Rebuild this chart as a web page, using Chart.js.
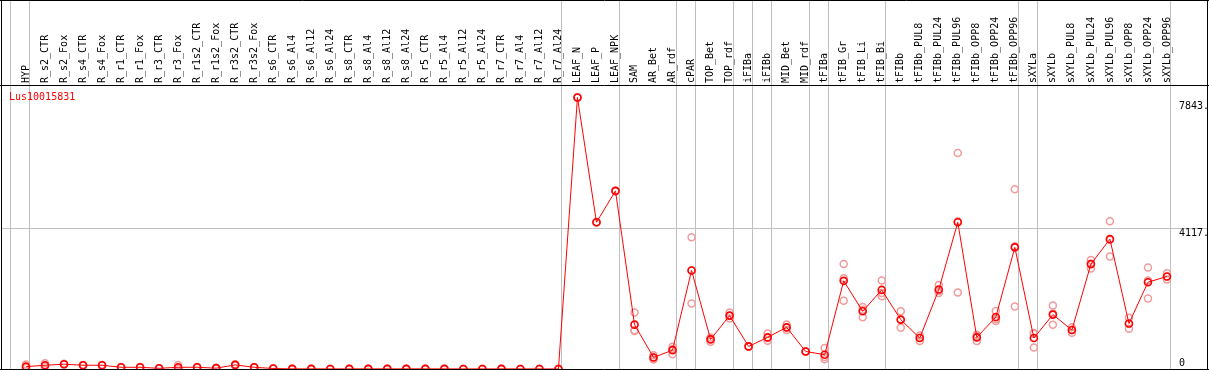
<!DOCTYPE html>
<html>
<head>
<meta charset="utf-8">
<script src="https://cdn.jsdelivr.net/npm/chart.js@4/dist/chart.umd.min.js"></script>
<style>
html,body{margin:0;padding:0;background:#fff;}
#wrap{width:1209px;height:370px;}
</style>
</head>
<body>
<div id="wrap"><canvas id="c" width="1209" height="370"></canvas></div>
<script>
const geneName = "Lus10015831";

const categories = ["HYP","R_s2_CTR","R_s2_Fox","R_s4_CTR","R_s4_Fox","R_r1_CTR","R_r1_Fox","R_r3_CTR","R_r3_Fox","R_r1s2_CTR","R_r1s2_Fox","R_r3s2_CTR","R_r3s2_Fox","R_s6_CTR","R_s6_Al4","R_s6_Al12","R_s6_Al24","R_s8_CTR","R_s8_Al4","R_s8_Al12","R_s8_Al24","R_r5_CTR","R_r5_Al4","R_r5_Al12","R_r5_Al24","R_r7_CTR","R_r7_Al4","R_r7_Al12","R_r7_Al24","LEAF_N","LEAF_P","LEAF_NPK","SAM","AR_Bet","AR_rdf","cPAR","TOP_Bet","TOP_rdf","iFIBa","iFIBb","MID_Bet","MID_rdf","tFIBa","tFIB_Gr","tFIB_Li","tFIB_Bi","tFIBb","tFIBb_PUL8","tFIBb_PUL24","tFIBb_PUL96","tFIBb_OPP8","tFIBb_OPP24","tFIBb_OPP96","sXYLa","sXYLb","sXYLb_PUL8","sXYLb_PUL24","sXYLb_PUL96","sXYLb_OPP8","sXYLb_OPP24","sXYLb_OPP96"];

const meanValues = [70,110,140,110,110,50,50,20,50,50,25,120,50,15,3,3,2,3,3,3,3,3,3,2,2,3,2,2,1,7943,4293,5212,1298,338,552,2884,866,1562,661,925,1219,514,417,2580,1688,2314,1445,905,2325,4293,925,1521,3559,905,1592,1140,3069,3800,1330,2540,2707];

const rep1 = [130,170,150,120,120,55,55,25,120,60,40,140,60,20,4,4,3,4,4,4,4,4,4,3,3,4,3,3,2,7943,4293,5212,1650,400,650,3853,920,1650,661,1040,1300,514,611,3069,1815,2590,1688,980,2461,6319,1000,1697,5262,1034,1856,1220,3186,4323,1500,2972,2800];
const rep2 = [40,80,130,100,100,45,45,15,20,40,15,100,40,10,2,2,1,2,2,2,2,2,2,1,1,2,1,1,0,7943,4293,5212,1110,280,430,1915,800,1480,661,830,1140,514,288,2000,1512,2129,1210,820,2226,2237,820,1404,1826,631,1298,1060,2942,3295,1175,2061,2620];
const rep3 = [40,80,140,110,110,50,50,20,10,50,20,120,50,15,3,3,2,3,3,3,3,3,3,2,2,3,2,2,1,7943,4293,5212,1134,334,576,2884,878,1556,661,905,1217,514,352,2658,1737,2223,1437,915,2288,4323,955,1462,3589,1050,1622,1140,3079,3782,1315,2587,2701];

const yTicks = [0, 4117, 7843];
const groupStarts = [0, 1, 29, 32, 35, 36, 38, 39, 40, 42, 43, 46, 53, 54, 61];

const SLOT_OFFSET = 0.841;
const FONT = "'DejaVu Sans Mono', monospace";
const GRAY = '#c0c0c0';

const pts = arr => arr.map((v, i) => ({x: i, y: v}));

const decor = {
  id: 'decor',
  beforeDatasetsDraw(chart) {
    const ctx = chart.ctx, xs = chart.scales.x, ys = chart.scales.y;
    const W = chart.width;
    ctx.save();
    ctx.strokeStyle = GRAY;
    ctx.lineWidth = 1;
    yTicks.forEach(v => {
      if (v === 0 || v === 7843) return;
      const y = Math.round(ys.getPixelForValue(v)) + 0.5;
      ctx.beginPath(); ctx.moveTo(1, y); ctx.lineTo(W - 1, y); ctx.stroke();
    });
    groupStarts.forEach(g => {
      const x = Math.round(xs.getPixelForValue(g - SLOT_OFFSET)) + 0.5;
      ctx.beginPath(); ctx.moveTo(x, 0); ctx.lineTo(x, chart.chartArea.bottom); ctx.stroke();
    });
    ctx.restore();
  },
  afterDraw(chart) {
    const ctx = chart.ctx, ys = chart.scales.y, ca = chart.chartArea;
    const W = chart.width;
    ctx.save();
    ctx.strokeStyle = '#000';
    ctx.lineWidth = 1;
    ctx.beginPath();
    ctx.moveTo(0, 0.5); ctx.lineTo(W, 0.5);
    ctx.moveTo(0, ca.top + 0.5); ctx.lineTo(W, ca.top + 0.5);
    ctx.moveTo(0, ca.bottom + 0.5); ctx.lineTo(W, ca.bottom + 0.5);
    ctx.moveTo(1.5, 0); ctx.lineTo(1.5, ca.bottom + 1);
    ctx.moveTo(W - 1.5, 0); ctx.lineTo(W - 1.5, ca.bottom + 1);
    ctx.stroke();
    ctx.fillStyle = '#000';
    ctx.font = '10px ' + FONT;
    ctx.textAlign = 'left';
    yTicks.forEach(v => {
      const y = ys.getPixelForValue(v);
      if (v === 0) { ctx.textBaseline = 'bottom'; ctx.fillText('0', ca.right + 9, y - 1); }
      else { ctx.textBaseline = 'top'; ctx.fillText(v + '.', ca.right + 9, y + 0.5); }
    });
    ctx.fillStyle = '#ff0000';
    ctx.textBaseline = 'middle';
    ctx.fillText(geneName, 9, ca.top + 12.5);
    ctx.restore();
  }
};

const repStyle = {
  showLine: false,
  pointRadius: 3.5,
  pointBorderWidth: 1.5,
  pointBorderColor: '#f09a9a',
  pointBackgroundColor: 'rgba(0,0,0,0)',
  borderColor: '#f09a9a',
  order: 2,
  clip: {left: 10, right: 10, top: 10, bottom: 0}
};

new Chart(document.getElementById('c'), {
  type: 'line',
  data: {
    datasets: [
      {
        label: geneName,
        data: pts(meanValues),
        borderColor: '#ff0000',
        borderWidth: 1,
        pointRadius: 3.5,
        pointBorderWidth: 1.6,
        pointBorderColor: '#ff0000',
        pointBackgroundColor: 'rgba(0,0,0,0)',
        tension: 0,
        order: 1,
        clip: {left: 10, right: 10, top: 10, bottom: 0}
      },
      Object.assign({label: 'rep1', data: pts(rep1)}, repStyle),
      Object.assign({label: 'rep2', data: pts(rep2)}, repStyle),
      Object.assign({label: 'rep3', data: pts(rep3)}, repStyle)
    ]
  },
  options: {
    responsive: false,
    devicePixelRatio: 1,
    animation: false,
    events: [],
    layout: {autoPadding: false, padding: {left: 10, right: 0, top: 0, bottom: 1}},
    plugins: {legend: {display: false}, tooltip: {enabled: false}, title: {display: false}},
    scales: {
      x: {
        type: 'linear',
        position: 'top',
        min: -SLOT_OFFSET,
        max: categories.length - SLOT_OFFSET,
        grid: {display: false, drawTicks: false},
        border: {display: false},
        afterBuildTicks: s => { s.ticks = categories.map((_, i) => ({value: i})); },
        afterFit: s => { s.height = 85; s.paddingLeft = 0; s.paddingRight = 0; },
        ticks: {
          autoSkip: false,
          minRotation: 90,
          maxRotation: 90,
          padding: 2,
          labelOffset: 12,
          color: '#000',
          font: {family: FONT, size: 10},
          callback: v => categories[v]
        }
      },
      y: {
        type: 'linear',
        position: 'right',
        min: 0,
        max: 8310,
        grid: {display: false, drawTicks: false},
        border: {display: false},
        afterBuildTicks: s => { s.ticks = yTicks.map(v => ({value: v})); },
        afterFit: s => { s.width = 39; s.paddingTop = 0; s.paddingBottom = 0; },
        ticks: {display: false}
      }
    }
  },
  plugins: [decor]
});
</script>
</body>
</html>
